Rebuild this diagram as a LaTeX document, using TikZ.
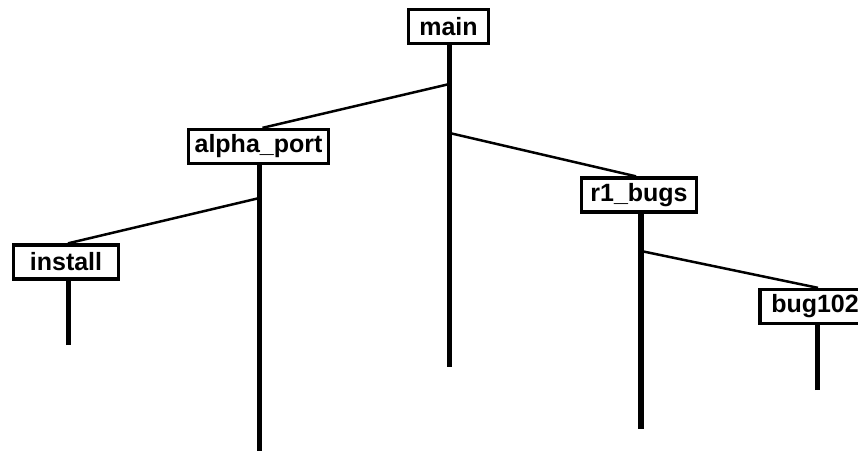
\documentclass[tikz,border=0pt]{standalone}
\usepackage{fontspec}
\setmainfont{Liberation Sans}
\newfontfamily\boxfont{Liberation Sans}
\begin{document}
\begin{tikzpicture}[x=1pt,y=1pt,
  branchbox/.style={draw=black, fill=white, line width=3.3pt, rectangle, inner sep=0pt,
    minimum height=34pt, font=\boxfont\bfseries\fontsize{25}{28}\selectfont},
  trunk/.style={line width=5.5pt},
  twig/.style={line width=2.5pt}]
\useasboundingbox (0,0) rectangle (858,-450);
% trunk end points and junctions
\coordinate (mainEnd) at (449.5,-367);
\coordinate (mainJa) at (449.5,-84);
\coordinate (mainJb) at (449.5,-133);
\coordinate (alphaEnd) at (259.5,-452);
\coordinate (alphaJ) at (259.5,-198);
\coordinate (installEnd) at (68.5,-345);
\coordinate (r1End) at (641,-429);
\coordinate (r1J) at (641,-251);
\coordinate (bugEnd) at (817.5,-390);
% trunks
\draw[trunk] (mainJa) -- (mainEnd);
\draw[trunk] (alphaJ) -- (alphaEnd);
\draw[trunk] (installEnd) -- (68.5,-270);
\draw[trunk] (r1J) -- (r1End);
\draw[trunk] (bugEnd) -- (817.5,-310);
% boxes
\node[branchbox, minimum width=80pt] (main) at (448.5,-26.5) {main};
\node[branchbox, minimum width=140pt] (alpha) at (258.5,-146.5) {alpha\_port};
\node[branchbox, minimum width=105pt] (install) at (66,-262) {install};
\node[branchbox, minimum width=115pt] (r1) at (639,-195) {r1\_bugs};
\node[branchbox, minimum width=110pt] (bug) at (815,-306.5) {bug102};
% trunk tops
\draw[trunk] (main.south -| mainJa) -- (mainJa);
\draw[trunk] (alpha.south -| alphaJ) -- (alphaJ);
\draw[trunk] (install.south -| installEnd) -- (installEnd);
\draw[trunk] (r1.south -| r1J) -- (r1J);
\draw[trunk] (bug.south -| bugEnd) -- (bugEnd);
% branches
\draw[twig] (mainJa) -- ([xshift=4pt]alpha.north);
\draw[twig] (mainJb) -- ([xshift=-3pt]r1.north);
\draw[twig] (alphaJ) -- ([xshift=2pt]install.north);
\draw[twig] (r1J) -- ([xshift=3pt]bug.north);
\end{tikzpicture}
\end{document}
